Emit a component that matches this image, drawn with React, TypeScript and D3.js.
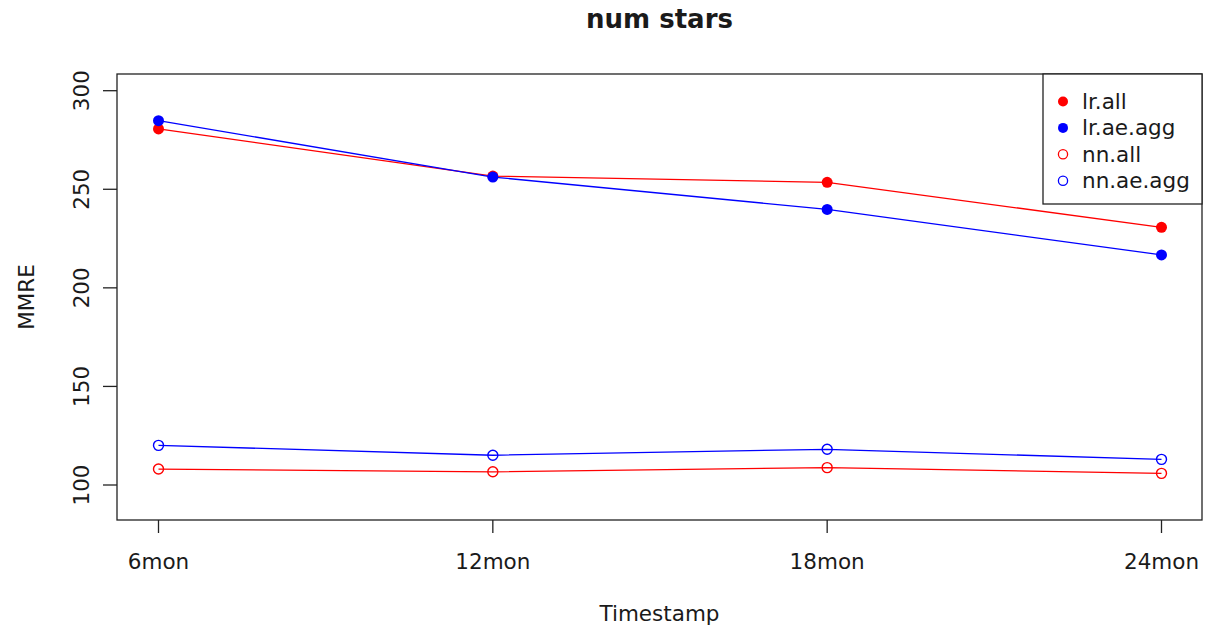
import * as d3 from 'd3';
import React from 'react';

const categories = ['6mon', '12mon', '18mon', '24mon'];
const lrAll = [280.6, 256.7, 253.5, 230.7];
const lrAeAgg = [284.8, 256.2, 239.8, 216.7];
const nnAll = [108.1, 106.7, 108.8, 105.9];
const nnAeAgg = [120.1, 115.1, 118.1, 113.0];
const yTicks = [100, 150, 200, 250, 300];

const seriesList = [
  { name: 'lr.all', values: lrAll, color: 'red', filled: true },
  { name: 'lr.ae.agg', values: lrAeAgg, color: 'blue', filled: true },
  { name: 'nn.all', values: nnAll, color: 'red', filled: false },
  { name: 'nn.ae.agg', values: nnAeAgg, color: 'blue', filled: false },
];

const App: React.FC = () => {
  const width = 1207;
  const height = 631;
  // plot box
  const box = { left: 117, right: 1202, top: 74, bottom: 520 };
  const font = '"DejaVu Sans", Verdana, sans-serif';
  const textColor = '#1a1a1a';

  const x = d3.scalePoint<string>().domain(categories).range([158.5, 1161.5]);
  const y = d3.scaleLinear().domain([100, 300]).range([485, 90.7]);

  const line = d3.line<number>()
    .x((_d, i) => x(categories[i]) as number)
    .y((d) => y(d));

  return (
    <svg width={width} height={height} style={{ display: 'block', position: 'absolute', left: 0, top: 0 }}>
      <rect x={0} y={0} width={width} height={height} fill="white" />
      <text x={(box.left + box.right) / 2} y={27.5} textAnchor="middle" fontFamily={font}
        fontWeight="bold" fontSize={26} fill={textColor}>num stars</text>

      {seriesList.map((s) => (
        <g key={s.name}>
          <path d={line(s.values) ?? ''} fill="none" stroke={s.color} strokeWidth={1.3} />
          {s.values.map((v, i) => (
            <circle key={i} cx={x(categories[i])} cy={y(v)} r={s.filled ? 5.5 : 5}
              fill={s.filled ? s.color : 'none'} stroke={s.color}
              strokeWidth={s.filled ? 0 : 1.4} />
          ))}
        </g>
      ))}

      <rect x={box.left} y={box.top} width={box.right - box.left} height={box.bottom - box.top}
        fill="none" stroke="#222" strokeWidth={1.3} />

      {yTicks.map((t) => (
        <g key={t}>
          <line x1={103} x2={box.left} y1={y(t)} y2={y(t)} stroke="#222" strokeWidth={1.3} />
          <text transform={`translate(88.5,${y(t)}) rotate(-90)`} textAnchor="middle"
            fontFamily={font} fontSize={21.5} fill={textColor}>{t}</text>
        </g>
      ))}

      {categories.map((c) => (
        <g key={c}>
          <line x1={x(c)} x2={x(c)} y1={box.bottom} y2={533} stroke="#222" strokeWidth={1.3} />
          <text x={x(c)} y={569} textAnchor="middle" fontFamily={font} fontSize={21.5}
            fill={textColor}>{c}</text>
        </g>
      ))}

      <text x={(box.left + box.right) / 2} y={620.5} textAnchor="middle" fontFamily={font}
        fontSize={21.5} fill={textColor}>Timestamp</text>
      <text transform={`translate(33.5,${(box.top + box.bottom) / 2}) rotate(-90)`} textAnchor="middle"
        fontFamily={font} fontSize={21.5} fill={textColor}>MMRE</text>

      {/* legend */}
      <rect x={1043} y={box.top} width={box.right - 1043} height={204 - box.top}
        fill="white" stroke="#222" strokeWidth={1.3} />
      {seriesList.map((s, i) => {
        const ly = 101.5 + i * 26.4;
        return (
          <g key={s.name}>
            <circle cx={1063} cy={ly} r={s.filled ? 5 : 4.6} fill={s.filled ? s.color : 'none'}
              stroke={s.color} strokeWidth={s.filled ? 0 : 1.3} />
            <text x={1082} y={ly + 7.5} fontFamily={font} fontSize={21.5} fill={textColor}>{s.name}</text>
          </g>
        );
      })}
    </svg>
  );
};

export default App;
